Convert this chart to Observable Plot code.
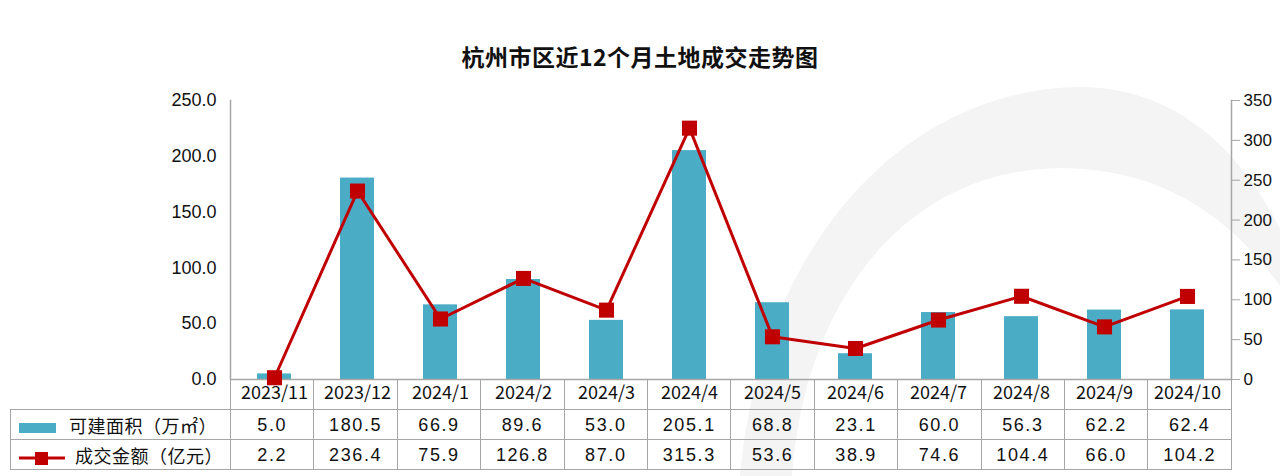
<!DOCTYPE html>
<html><head><meta charset="utf-8">
<script src="https://cdn.jsdelivr.net/npm/d3@7"></script>
<script src="https://cdn.jsdelivr.net/npm/@observablehq/plot@0.6"></script>
<style>
html,body{margin:0;padding:0;background:#fff;}
#wrap{position:relative;width:1280px;height:476px;overflow:hidden;font-family:"Noto Sans CJK SC","Liberation Sans",sans-serif;}
#bg{position:absolute;left:0;top:0;}
#title{position:absolute;left:0;top:40px;width:1280px;text-align:center;font-size:23px;font-weight:700;color:#111;letter-spacing:0.5px;line-height:32px;}
#chart{position:absolute;left:0;top:0;}
table{position:absolute;left:10px;top:379px;border-collapse:collapse;table-layout:fixed;font-size:18px;color:#111;}
td{border:1.5px solid #a6a6a6;text-align:center;padding:0;height:29px;line-height:28px;}
td.num{letter-spacing:1.6px;font-family:"Liberation Sans",Arial,sans-serif;}
td.leg{text-align:left;white-space:nowrap;letter-spacing:0.5px;}
tr.hdr td{border-top:none;height:30px;}
.sw{display:inline-block;width:37px;height:10px;background:#4BACC6;margin:0 13px 0 8px;vertical-align:middle;}
</style></head>
<body><div id="wrap">
<svg id="bg" width="1280" height="476"><path d="M 740,476 C 760,250 900,92 1075,87 C 1190,85 1255,170 1290,250 L 1290,300 C 1240,225 1170,168 1060,168 C 905,170 805,300 792,476 Z" fill="#f4f4f4"/></svg>
<div id="title">杭州市区近12个月土地成交走势图</div><div id="chart"></div><table id="tbl"></table></div>
<script>
const months = ["2023/11","2023/12","2024/1","2024/2","2024/3","2024/4","2024/5","2024/6","2024/7","2024/8","2024/9","2024/10"];
const area = [5.0,180.5,66.9,89.6,53.0,205.1,68.8,23.1,60.0,56.3,62.2,62.4];
const amount = [2.2,236.4,75.9,126.8,87.0,315.3,53.6,38.9,74.6,104.4,66.0,104.2];
const leftTicks = [0,50,100,150,200,250];
const rightTicks = [0,50,100,150,200,250,300,350];
const seriesNames = ["可建面积（万㎡）","成交金额（亿元）"];

const k = 250/350;
const rows = months.map((m,i)=>({month:m, area:area[i], amount:amount[i], amountScaled:amount[i]*k}));

const plot = Plot.plot({
  width:1280, height:411,
  marginLeft:230, marginRight:49, marginTop:100, marginBottom:32,
  style:{fontFamily:"'Liberation Sans',Arial,sans-serif", fontSize:"17px", color:"#111", background:"transparent"},
  x:{domain:months, paddingInner:0.59, paddingOuter:0.295},
  y:{domain:[0,250]},
  marks:[
    Plot.frame({anchor:"left", stroke:"#a6a6a6", strokeWidth:1.5}),
    Plot.frame({anchor:"right", stroke:"#a6a6a6", strokeWidth:1.5}),
    Plot.barY(rows,{x:"month", y:"area", fill:"#4BACC6"}),
    Plot.ruleY([0],{stroke:"#a6a6a6", strokeWidth:1.5}),
    Plot.axisY({anchor:"left", ticks:leftTicks, tickSize:0, tickPadding:14, tickFormat:d=>d.toFixed(1), label:null, fontSize:18, style:{letterSpacing:"1.6px"}}),
    Plot.axisY({anchor:"right", ticks:rightTicks.map(v=>v*k), tickSize:8, tickPadding:4, stroke:"#a6a6a6", tickFormat:d=>String(Math.round(d/k)), label:null, fontSize:17}),
    Plot.axisX({anchor:"bottom", tickSize:0, tickPadding:7, label:null, fontSize:18, fontFamily:"'Noto Sans CJK SC',sans-serif"}),
    Plot.lineY(rows,{x:"month", y:"amountScaled", stroke:"#C00000", strokeWidth:3}),
    Plot.dot(rows,{x:"month", y:"amountScaled", symbol:"square", r:8.5, fill:"#C00000", stroke:"none"})
  ]
});
document.getElementById("chart").appendChild(plot);

const tbl = document.getElementById("tbl");
let html = '<colgroup><col style="width:220px">' + months.map(()=>'<col style="width:83.42px">').join('') + '</colgroup>';
html += '<tr class="hdr"><td style="border-left:none;border-top:none;"></td>' + months.map(()=>'<td></td>').join('') + '</tr>';
html += '<tr><td class="leg"><span class="sw"></span>' + seriesNames[0] + '</td>' + area.map(v=>'<td class="num">'+v.toFixed(1)+'</td>').join('') + '</tr>';
html += '<tr><td class="leg"><svg width="58" height="14" style="vertical-align:middle;margin:0 0 0 6px"><line x1="2" y1="7" x2="48" y2="7" stroke="#C00000" stroke-width="3"/><rect x="18" y="1" width="13" height="13" fill="#C00000"/></svg>' + seriesNames[1] + '</td>' + amount.map(v=>'<td class="num">'+v.toFixed(1)+'</td>').join('') + '</tr>';
tbl.innerHTML = html;
</script></body></html>
